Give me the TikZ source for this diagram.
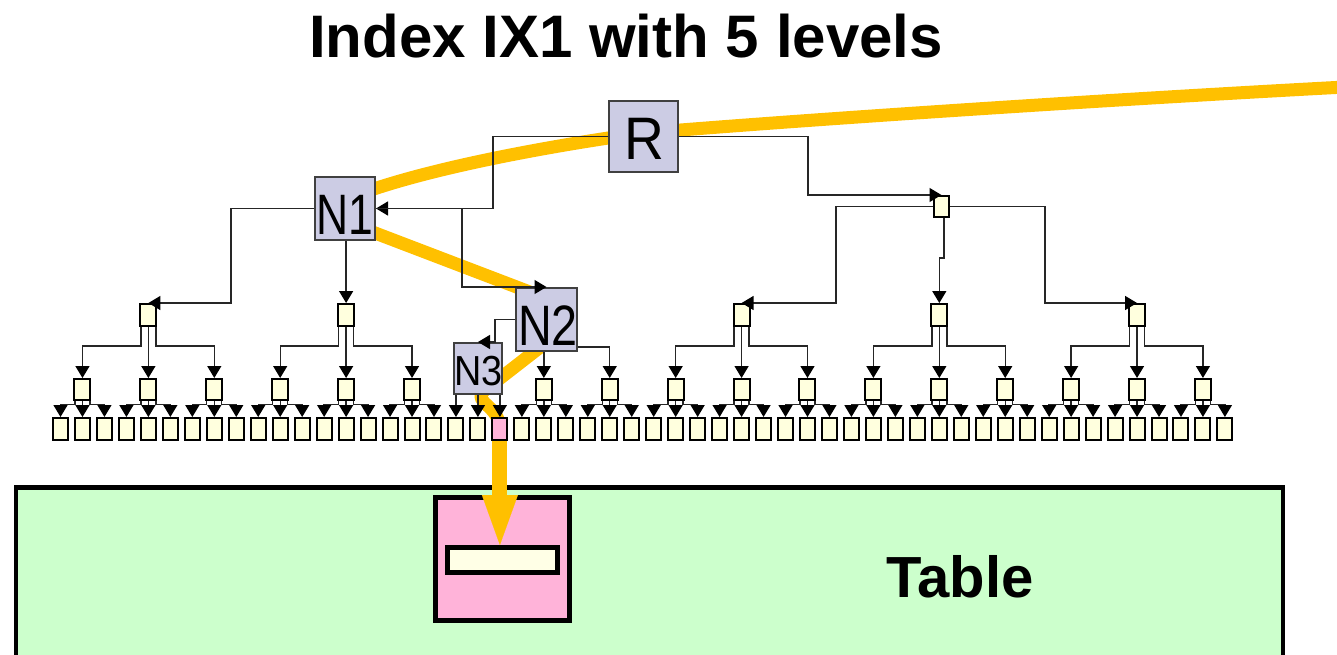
\documentclass[tikz,border=0pt]{standalone}
\usepackage{graphicx}
\usepackage{fontspec}
\setmainfont{Liberation Sans}
\usetikzlibrary{arrows.meta}
\pgfdeclarelayer{bg}
\pgfsetlayers{bg,main}
\definecolor{gold}{RGB}{255,192,0}
\definecolor{lav}{RGB}{204,204,228}
\definecolor{leafy}{RGB}{255,255,222}
\definecolor{pinkc}{RGB}{255,179,217}
\definecolor{tgreen}{RGB}{204,255,204}
\definecolor{barfill}{RGB}{255,255,230}
\begin{document}
\begin{tikzpicture}[x=1pt,y=-1pt,
  leaf/.style={draw=black,line width=2pt,fill=leafy,minimum width=15pt,minimum height=22pt,inner sep=0pt},
  midbox/.style={draw=black,line width=2pt,fill=leafy,minimum width=16pt,minimum height=21pt,inner sep=0pt},
  bigbox/.style={draw=black!75,line width=2pt,fill=lav,inner sep=0pt},
  lab/.style={inner sep=0pt},
  conn/.style={draw=black!85,line width=1.4pt},
  arr/.style={conn,-{Triangle[width=14pt,length=12pt,color=black]}},
  goldline/.style={draw=gold,line width=13pt,line join=round,line cap=round},
  goldarrow/.style={draw=gold,line width=15pt,-{Triangle[width=36pt,length=50pt,line width=0.1pt]}},
]
\useasboundingbox (0,0) rectangle (1337,654);

% title
\node[lab,font=\fontsize{60}{72}\selectfont\bfseries,anchor=base] (title) at (626,57) {Index IX1 with 5 levels};

% root and level 2
\node[bigbox,minimum width=69pt,minimum height=71pt] (R) at (643.5,136.5) {};
\node[lab,font=\fontsize{60}{60}\selectfont] (Rl) at (644,138.5) {\scalebox{0.92}[1]{R}};
\node[bigbox,minimum width=60pt,minimum height=63pt] (N1) at (345,208.5) {};
\node[lab,font=\fontsize{57}{57}\selectfont] (N1l) at (345,215) {\scalebox{0.78}[1]{N1}};
\node[midbox,minimum width=15pt] (B) at (941.5,206.5) {};

% level 3
\foreach \m in {0,1,3,4,5} {
  \pgfmathsetmacro\xx{60.5+21.97*(9*\m+4)}
  \node[midbox,minimum height=22pt] (c\m) at (\xx,315) {};
}
\node[bigbox,minimum width=61pt,minimum height=63pt] (c2) at (546.5,319.5) {};
\node[lab,font=\fontsize{57}{57}\selectfont] (N2l) at (548,326) {\scalebox{0.82}[1]{N2}};

% level 4
\foreach \k in {0,1,2,3,4,5,7,8,9,10,11,12,13,14,15,16,17} {
  \pgfmathsetmacro\xx{60.5+21.97*(3*\k+1)}
  \node[midbox] (d\k) at (\xx,389.5) {};
}
\node[bigbox,minimum width=48pt,minimum height=51pt] (d6) at (478,368.5) {};
\node[lab,font=\fontsize{42}{42}\selectfont] (N3l) at (478.5,371.5) {\scalebox{0.9}[1]{N3}};

% leaves
\foreach \i in {0,...,19} {
  \pgfmathsetmacro\xx{60.5+21.97*\i}
  \node[leaf] (l\i) at (\xx,429) {};
}
\foreach \i in {21,...,53} {
  \pgfmathsetmacro\xx{60.5+21.97*\i}
  \node[leaf] (l\i) at (\xx,429) {};
}
\node[leaf,fill=pinkc] (l20) at (499.9,429) {};

% connectors level 1-2-3
\draw[arr] (R.west) -- ++(-115,0) |- (N1.east);
\draw[arr] (R.east) -- ++(129,0) |- (B.north);
\draw[arr] (N1.west) -- ++(-83,0) |- (c0.north);
\draw[arr] (N1.south -| c1.north) -- (c1.north);
\draw[arr] (N1.east) -- ++(86,0) |- (c2.north);
\draw[arr] (B.west) -- ++(-97,0) |- (c3.north);
\draw[arr] ([xshift=2.5pt]B.south) -- ++(0,40) -| (c4.north);
\draw[arr] (B.east) -- ++(95,0) |- (c5.north);

% level 3 -> 4
\foreach \m in {0,1,3,4,5} {
  \pgfmathtruncatemacro\ka{3*\m}
  \pgfmathtruncatemacro\kb{3*\m+1}
  \pgfmathtruncatemacro\kc{3*\m+2}
  \draw[arr] ([xshift=1.5pt]c\m.south west) -- ++(0,19) -| (d\ka.north);
  \draw[arr] (c\m.south) -- (d\kb.north);
  \draw[arr] ([xshift=-1.5pt]c\m.south east) -- ++(0,19) -| (d\kc.north);
}
\draw[arr] (c2.west) -- ++(-20,0) |- (d6.north);
\draw[arr] (c2.south -| d7.north) -- (d7.north);
\draw[arr] ([yshift=-27.5pt]c2.east) -| (d8.north);

% level 4 -> leaves
\foreach \k in {0,1,2,3,4,5,7,8,9,10,11,12,13,14,15,16,17} {
  \pgfmathtruncatemacro\la{3*\k}
  \pgfmathtruncatemacro\lb{3*\k+1}
  \pgfmathtruncatemacro\lc{3*\k+2}
  \draw[arr] ([xshift=1.5pt]d\k.south west) -- ++(0,3.5) -| (l\la.north);
  \draw[arr] (d\k.south) -- (l\lb.north);
  \draw[arr] ([xshift=-1.5pt]d\k.south east) -- ++(0,3.5) -| (l\lc.north);
}
\foreach \i in {18,19,20} \draw[arr] (d6.south -| l\i.north) -- (l\i.north);

% table label
\node[lab,font=\fontsize{58}{58}\selectfont\bfseries,anchor=base] (tablel) at (960,597) {Table};

\begin{pgfonlayer}{bg}
\node[draw=black,line width=4.5pt,fill=tgreen,minimum width=1267pt,minimum height=192.5pt,inner sep=0pt] (table) at (649.5,583.75) {};
\node[draw=black,line width=5pt,fill=pinkc,minimum width=134pt,minimum height=123pt,inner sep=0pt] (rec) at (502.5,559) {};
\node[draw=black,line width=5pt,fill=barfill,minimum width=110pt,minimum height=25pt,inner sep=0pt] (bar) at (502.5,560) {};
\coordinate (gstart) at (1345,87);
\draw[goldline] (gstart) .. controls (1100,100) and (800,120) .. (643.5,133)
  .. controls (590,140) and (450,162) .. (365,192) -- (362,228) -- (548,299)
  -- (548,341) -- (485,390) .. controls (470,402) and (500,405) .. (l20.center);
\draw[goldarrow] (l20.center) -- (l20.center |- bar.north);
\end{pgfonlayer}
\end{tikzpicture}
\end{document}
